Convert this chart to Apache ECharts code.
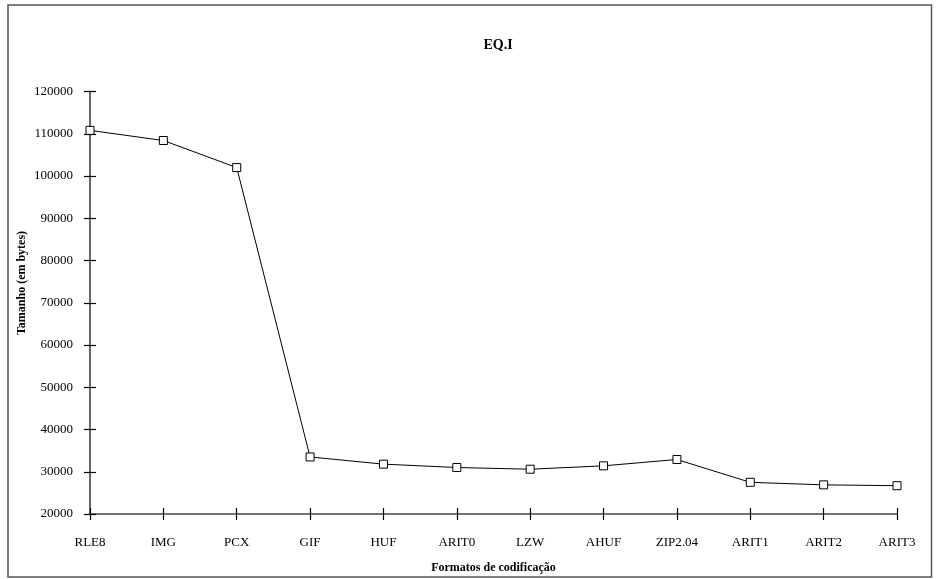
<!DOCTYPE html>
<html>
<head>
<meta charset="utf-8">
<script src="https://cdn.jsdelivr.net/npm/echarts@6/dist/echarts.min.js"></script>
<style>html,body{margin:0;padding:0;background:#fff}#c{width:936px;height:579px}</style>
</head>
<body>
<div id="c"></div>
<script>
var categories = ['RLE8','IMG','PCX','GIF','HUF','ARIT0','LZW','AHUF','ZIP2.04','ARIT1','ARIT2','ARIT3'];
var sizes = [110800, 108400, 102000, 33500, 31800, 31000, 30600, 31400, 32900, 27500, 26900, 26700];
var yMin = 20000, yMax = 120000, yStep = 10000;
var titleText = 'EQ.I';
var xName = 'Formatos de codificação';
var yName = 'Tamanho (em bytes)';

var FONT = '"Liberation Serif", "DejaVu Serif", serif';
var chart = echarts.init(document.getElementById('c'));
var gridPos = {left: 90, right: 39, top: 91.5, bottom: 65, outerBoundsMode: 'none', containLabel: false};
chart.setOption({
  animation: false,
  backgroundColor: '#fff',
  title: {
    text: titleText, left: 493, top: 33, textAlign: 'center',
    textStyle: {fontFamily: FONT, fontSize: 14, fontWeight: 'bold', color: '#000'}
  },
  graphic: [
    {type: 'rect', shape: {x: 8, y: 5, width: 923.5, height: 572}, style: {fill: 'none', stroke: '#555', lineWidth: 1.5}},
    {type: 'text', x: 22, y: 283, rotation: Math.PI / 2,
      style: {text: yName, font: 'bold 12px ' + FONT, fill: '#000', textAlign: 'center', textVerticalAlign: 'middle'}}
  ],
  grid: [
    Object.assign({}, gridPos),
    Object.assign({}, gridPos)
  ],
  xAxis: [
    {
      type: 'category', data: categories, boundaryGap: false, gridIndex: 0,
      name: xName, nameLocation: 'middle', nameGap: 48,
      nameTextStyle: {fontFamily: FONT, fontSize: 12, fontWeight: 'bold', color: '#000'},
      axisLine: {lineStyle: {color: '#444', width: 1.5}},
      axisTick: {inside: false, length: 6, alignWithLabel: true, lineStyle: {color: '#000', width: 1.2}},
      axisLabel: {fontFamily: FONT, fontSize: 13, color: '#000', margin: 22},
      splitLine: {show: false}
    },
    {
      type: 'category', data: categories, boundaryGap: false, gridIndex: 1, position: 'bottom',
      axisLine: {show: false},
      axisTick: {inside: true, length: 6, lineStyle: {color: '#000', width: 1.2}},
      axisLabel: {show: false},
      splitLine: {show: false}
    }
  ],
  yAxis: [
    {
      type: 'value', min: yMin, max: yMax, interval: yStep, gridIndex: 0,
      axisLine: {show: true, lineStyle: {color: '#666', width: 2}},
      axisTick: {show: true, inside: false, length: 6, lineStyle: {color: '#000', width: 1.2}},
      axisLabel: {fontFamily: FONT, fontSize: 13, color: '#000', margin: 17, formatter: function (v) { return String(v); }},
      splitLine: {show: false}
    },
    {
      type: 'value', min: yMin, max: yMax, interval: yStep, gridIndex: 1, position: 'left',
      axisLine: {show: false},
      axisTick: {show: true, inside: true, length: 6, lineStyle: {color: '#000', width: 1.2}},
      axisLabel: {show: false},
      splitLine: {show: false}
    }
  ],
  series: [{
    type: 'line', data: sizes, xAxisIndex: 0, yAxisIndex: 0,
    symbol: 'rect', symbolSize: 8, showAllSymbol: true,
    lineStyle: {color: '#000', width: 1},
    itemStyle: {color: '#fff', borderColor: '#000', borderWidth: 1}
  }]
});
</script>
</body>
</html>
